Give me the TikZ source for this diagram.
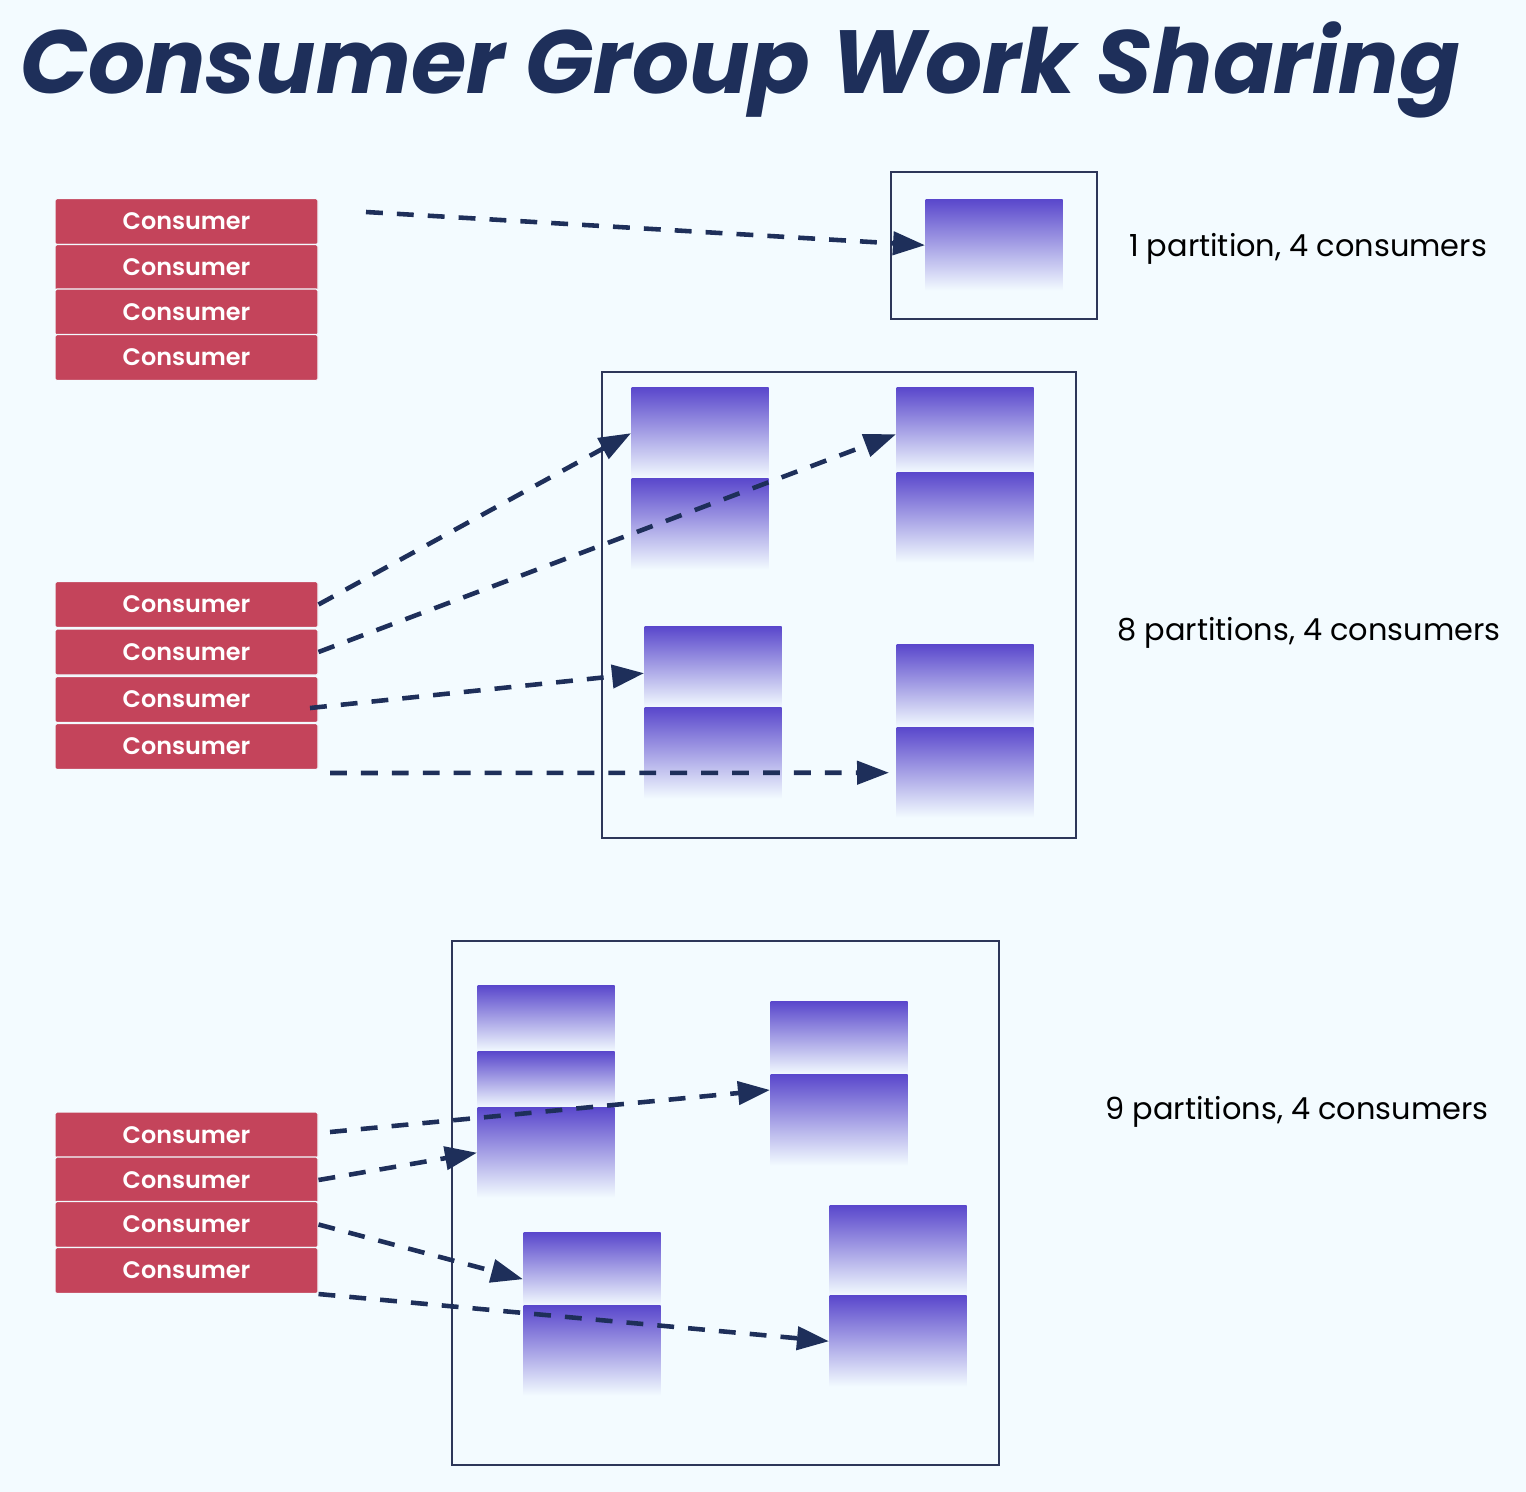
\documentclass[tikz,border=0pt]{standalone}
\usepackage{fontspec}
\setmainfont{Poppins}
\newfontface\semibold{Poppins SemiBold}
\usetikzlibrary{arrows.meta}

\definecolor{bgcol}{HTML}{F3FBFF}
\definecolor{navy}{HTML}{1E2F5A}
\definecolor{cons}{HTML}{C4445B}
\definecolor{ptop}{HTML}{5A48CC}
\definecolor{framecol}{HTML}{2D3659}

\begin{document}
\begin{tikzpicture}[
    consumer/.style={fill=cons, draw=bgcol, line width=0.3pt, rounded corners=0.5pt, minimum width=2.63cm, minimum height=0.46cm, inner sep=0pt, text=white, font=\fontsize{6.8}{8}\semibold},
    part/.style={top color=ptop, bottom color=bgcol, minimum width=1.37cm, inner sep=0pt, anchor=north west},
    frame/.style={draw=framecol, line width=0.6pt, inner sep=0pt, anchor=north west},
    note/.style={font=\fontsize{8.65}{10}\selectfont, text=black},
    flow/.style={draw=navy, line width=1.3pt, dash pattern=on 4.8pt off 4pt, -{Triangle[length=0.32cm,width=0.23cm]}}
]
    \fill [bgcol] (0,0) rectangle (15.26,-14.92);
    \useasboundingbox (0,0) rectangle (15.26,-14.92);

    \node [anchor=base, text=navy, font=\fontsize{25.5}{30}\selectfont\bfseries\itshape] (title) at (7.40,-0.93) {Consumer Group Work Sharing};

    % 1 partition
    \node [consumer] (c11) at (1.865,-2.215) {Consumer};
    \node [consumer] (c12) at (1.865,-2.675) {Consumer};
    \node [consumer] (c13) at (1.865,-3.12) {Consumer};
    \node [consumer] (c14) at (1.865,-3.575) {Consumer};
    \node [frame, minimum width=2.06cm, minimum height=1.47cm] (f1) at (8.90,-1.71) {};
    \node [part, minimum height=0.91cm] (p11) at (9.25,-1.99) {};
    \node [note] (n1) at (13.08,-2.49) {1 partition, 4 consumers};

    % 8 partitions
    \node [consumer] (c21) at (1.865,-6.045) {Consumer};
    \node [consumer] (c22) at (1.865,-6.52) {Consumer};
    \node [consumer] (c23) at (1.865,-6.995) {Consumer};
    \node [consumer] (c24) at (1.865,-7.465) {Consumer};
    \node [frame, minimum width=4.74cm, minimum height=4.66cm] (f2) at (6.01,-3.71) {};
    \node [part, minimum height=0.91cm] (pA1) at (6.31,-3.87) {};
    \node [part, minimum height=0.91cm] (pA2) at (6.31,-4.78) {};
    \node [part, minimum height=0.85cm] (pB1) at (8.96,-3.87) {};
    \node [part, minimum height=0.90cm] (pB2) at (8.96,-4.72) {};
    \node [part, minimum height=0.81cm] (pC1) at (6.44,-6.26) {};
    \node [part, minimum height=0.91cm] (pC2) at (6.44,-7.07) {};
    \node [part, minimum height=0.83cm] (pD1) at (8.96,-6.44) {};
    \node [part, minimum height=0.90cm] (pD2) at (8.96,-7.27) {};
    \node [note] (n2) at (13.09,-6.33) {8 partitions, 4 consumers};

    % 9 partitions
    \node [consumer] (c31) at (1.865,-11.35) {Consumer};
    \node [consumer] (c32) at (1.865,-11.80) {Consumer};
    \node [consumer] (c33) at (1.865,-12.245) {Consumer};
    \node [consumer] (c34) at (1.865,-12.705) {Consumer};
    \node [frame, minimum width=5.47cm, minimum height=5.24cm] (f3) at (4.51,-9.40) {};
    \node [part, minimum height=0.66cm] (pE1) at (4.77,-9.85) {};
    \node [part, minimum height=0.56cm] (pE2) at (4.77,-10.51) {};
    \node [part, minimum height=0.90cm] (pE3) at (4.77,-11.07) {};
    \node [part, minimum height=0.73cm] (pF1) at (7.70,-10.01) {};
    \node [part, minimum height=0.91cm] (pF2) at (7.70,-10.74) {};
    \node [part, minimum height=0.73cm] (pG1) at (5.23,-12.32) {};
    \node [part, minimum height=0.90cm] (pG2) at (5.23,-13.05) {};
    \node [part, minimum height=0.90cm] (pH1) at (8.29,-12.05) {};
    \node [part, minimum height=0.91cm] (pH2) at (8.29,-12.95) {};
    \node [note] (n3) at (12.97,-11.12) {9 partitions, 4 consumers};

    % arrows
    \coordinate (s1) at (3.66,-2.12);
    \coordinate (s3) at (3.10,-7.08);
    \coordinate (s4) at (3.30,-7.73);
    \coordinate (s5) at (3.30,-11.32);
    \draw [flow] (s1) -- (p11.west);
    \draw [flow] (c21.east) -- (pA1.west);
    \draw [flow] (c22.east) -- ([yshift=-0.04cm]pB1.west);
    \draw [flow] (s3) -- ([yshift=-0.06cm]pC1.west);
    \draw [flow] (s4) -- ([xshift=-0.07cm]pD2.west);
    \draw [flow] (s5) -- ([yshift=-0.16cm]pF2.north west);
    \draw [flow] (c32.east) -- (pE3.west);
    \draw [flow] (c33.east) -- ([yshift=-0.10cm]pG1.west);
    \draw [flow] (c34.south east) -- (pH2.west);
\end{tikzpicture}
\end{document}
